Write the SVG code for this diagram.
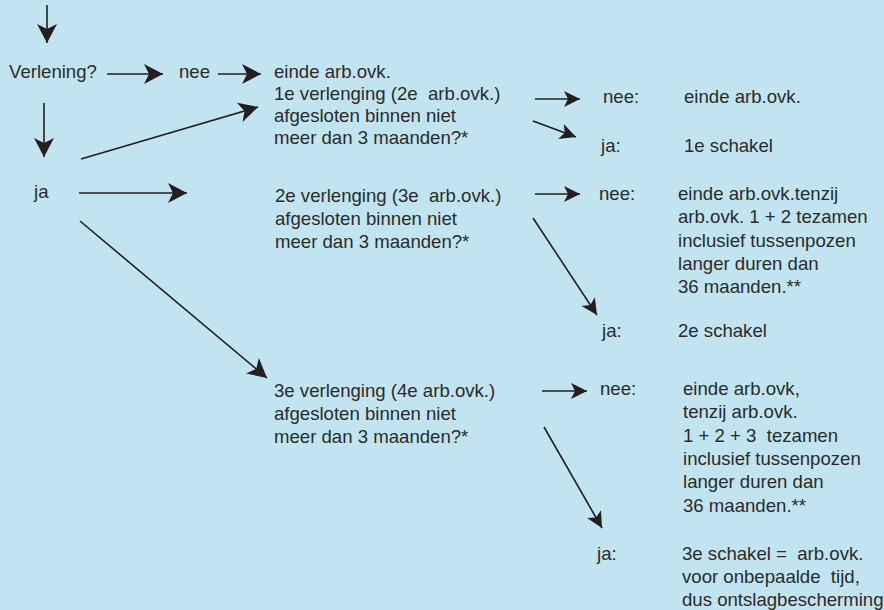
<svg xmlns="http://www.w3.org/2000/svg" width="884" height="610" viewBox="0 0 884 610">
<defs>
<style>
text{font-family:"Liberation Sans",Arial,sans-serif;font-size:18.6px;fill:#2b2b2b;white-space:pre}
.c{stroke:#231f20;stroke-width:1.6;fill:none}
.b{marker-end:url(#big)}
.s{marker-end:url(#small)}
</style>
<marker id="big" viewBox="-20 -11 21 22" refX="0" refY="0" markerWidth="21" markerHeight="22" markerUnits="userSpaceOnUse" orient="auto" overflow="visible">
<path d="M0,0 L-19,-10 L-14,0 L-19,10 Z" fill="#231f20"/>
</marker>
<marker id="small" viewBox="-17 -9 18 18" refX="0" refY="0" markerWidth="18" markerHeight="18" markerUnits="userSpaceOnUse" orient="auto" overflow="visible">
<path d="M0,0 L-16,-8 L-12,0 L-16,8 Z" fill="#231f20"/>
</marker>
</defs>
<rect width="884" height="610" fill="#c1e4f0"/>
<g id="connectors">
<line class="c b" x1="47" y1="5" x2="47" y2="43"/>
<line class="c b" x1="107" y1="74" x2="163" y2="74"/>
<line class="c b" x1="218" y1="74" x2="261" y2="74"/>
<line class="c b" x1="44" y1="103" x2="44" y2="157"/>
<line class="c b" x1="81" y1="159" x2="258" y2="107"/>
<line class="c b" x1="79" y1="193" x2="187" y2="193"/>
<line class="c b" x1="80" y1="221" x2="267" y2="378"/>
<line class="c s" x1="535" y1="99" x2="580" y2="99"/>
<line class="c s" x1="533" y1="121" x2="576" y2="137"/>
<line class="c s" x1="535" y1="194" x2="580" y2="194"/>
<line class="c s" x1="533" y1="218" x2="597" y2="315"/>
<line class="c s" x1="542" y1="391" x2="587" y2="391"/>
<line class="c s" x1="544" y1="427" x2="602" y2="528"/>
</g>
<g id="verlening"><text x="9" y="78">Verlening?</text></g>
<g id="nee0"><text x="179" y="78">nee</text></g>
<g id="ja0"><text x="34" y="198">ja</text></g>
<g id="einde0"><text x="274" y="78">einde arb.ovk.</text></g>
<g id="verl1">
<text x="274" y="100">1e verlenging (2e  arb.ovk.)</text>
<text x="274" y="122">afgesloten binnen niet</text>
<text x="274" y="144">meer dan 3 maanden?*</text>
</g>
<g id="verl2">
<text x="275" y="202">2e verlenging (3e  arb.ovk.)</text>
<text x="275" y="225">afgesloten binnen niet</text>
<text x="275" y="248">meer dan 3 maanden?*</text>
</g>
<g id="verl3">
<text x="274" y="397">3e verlenging (4e arb.ovk.)</text>
<text x="274" y="420">afgesloten binnen niet</text>
<text x="274" y="443">meer dan 3 maanden?*</text>
</g>
<g id="nee1"><text x="603" y="103">nee:</text><text x="684" y="103">einde arb.ovk.</text></g>
<g id="ja1"><text x="601" y="152">ja:</text><text x="684" y="152">1e schakel</text></g>
<g id="nee2">
<text x="599" y="200">nee:</text>
<text x="678" y="200">einde arb.ovk.tenzij</text>
<text x="678" y="223">arb.ovk. 1 + 2 tezamen</text>
<text x="678" y="247">inclusief tussenpozen</text>
<text x="678" y="270">langer duren dan</text>
<text x="678" y="293">36 maanden.**</text>
</g>
<g id="ja2"><text x="602" y="337">ja:</text><text x="678" y="337">2e schakel</text></g>
<g id="nee3">
<text x="600" y="395">nee:</text>
<text x="683" y="395">einde arb.ovk,</text>
<text x="683" y="418">tenzij arb.ovk.</text>
<text x="683" y="442">1 + 2 + 3  tezamen</text>
<text x="683" y="465">inclusief tussenpozen</text>
<text x="683" y="488">langer duren dan</text>
<text x="683" y="512">36 maanden.**</text>
</g>
<g id="ja3">
<text x="597" y="560">ja:</text>
<text x="682" y="560">3e schakel =  arb.ovk.</text>
<text x="682" y="583">voor onbepaalde  tijd,</text>
<text x="682" y="606">dus ontslagbescherming</text>
</g>
</svg>
